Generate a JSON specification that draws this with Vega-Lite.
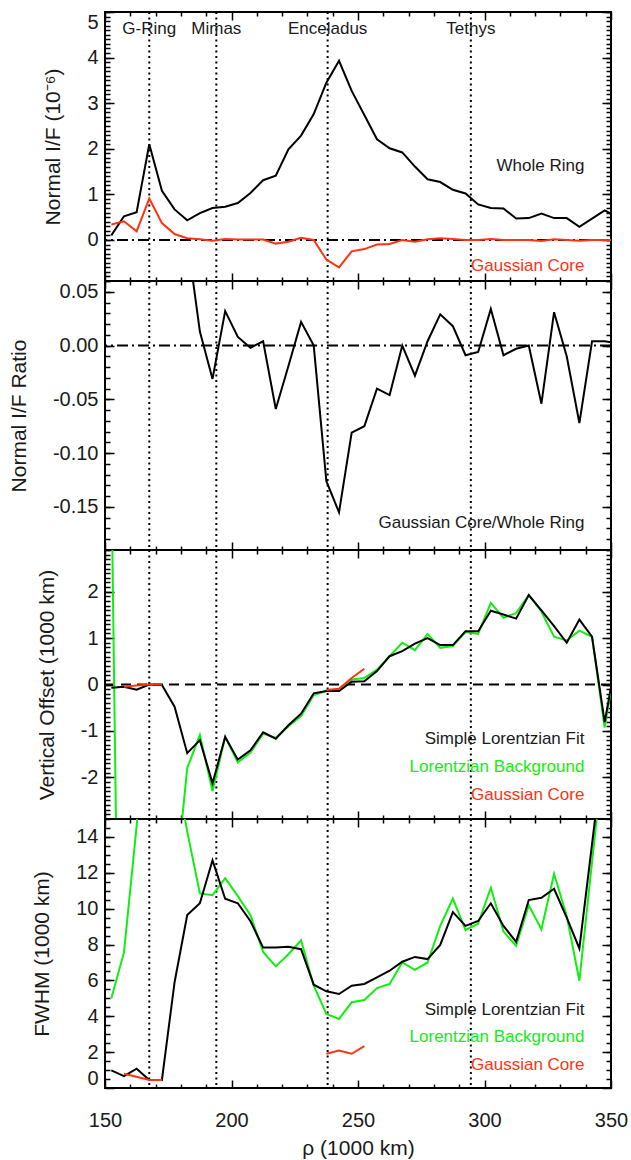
{
  "$schema": "https://vega.github.io/schema/vega-lite/v6.json",
  "padding": {"left": 7, "top": 10, "right": 0, "bottom": 0},
  "spacing": 0,
  "bounds": "flush",
  "datasets": {
    "d": [
      {"r":152.5,"wr":0.10,"gc":0.34,"ra":3.4,"vs":-0.07,"vl":4.6,"vg":null,"fs":0.98,"fl":5.0,"fg":null},
      {"r":157.5,"wr":0.52,"gc":0.41,"ra":0.79,"vs":-0.05,"vl":-16,"vg":-0.05,"fs":0.66,"fl":7.56,"fg":0.80},
      {"r":162.5,"wr":0.61,"gc":0.19,"ra":0.31,"vs":-0.11,"vl":-12,"vg":-0.02,"fs":1.08,"fl":14.6,"fg":0.63},
      {"r":167.5,"wr":2.10,"gc":0.91,"ra":0.43,"vs":0.0,"vl":-10,"vg":0.0,"fs":0.45,"fl":25,"fg":0.45},
      {"r":172.5,"wr":1.08,"gc":0.37,"ra":0.34,"vs":-0.01,"vl":-8,"vg":0.0,"fs":0.45,"fl":25,"fg":0.45},
      {"r":177.5,"wr":0.67,"gc":0.13,"ra":0.19,"vs":-0.48,"vl":-4.55,"vg":null,"fs":5.9,"fl":18.2,"fg":null},
      {"r":182.5,"wr":0.43,"gc":0.04,"ra":0.10,"vs":-1.48,"vl":-1.80,"vg":null,"fs":9.65,"fl":14.3,"fg":null},
      {"r":187.5,"wr":0.59,"gc":0.015,"ra":0.013,"vs":-1.20,"vl":-1.09,"vg":null,"fs":10.3,"fl":10.85,"fg":null},
      {"r":192.5,"wr":0.70,"gc":-0.015,"ra":-0.031,"vs":-2.13,"vl":-2.30,"vg":null,"fs":12.7,"fl":10.75,"fg":null},
      {"r":197.5,"wr":0.73,"gc":0.02,"ra":0.032,"vs":-1.13,"vl":-1.13,"vg":null,"fs":10.55,"fl":11.7,"fg":null},
      {"r":202.5,"wr":0.81,"gc":0.01,"ra":0.008,"vs":-1.62,"vl":-1.68,"vg":null,"fs":10.3,"fl":10.7,"fg":null},
      {"r":207.5,"wr":1.03,"gc":0.01,"ra":-0.002,"vs":-1.42,"vl":-1.47,"vg":null,"fs":9.3,"fl":9.63,"fg":null},
      {"r":212.5,"wr":1.31,"gc":0.01,"ra":0.004,"vs":-1.03,"vl":-1.06,"vg":null,"fs":7.83,"fl":7.59,"fg":null},
      {"r":217.5,"wr":1.41,"gc":-0.08,"ra":-0.059,"vs":-1.17,"vl":-1.15,"vg":null,"fs":7.83,"fl":6.78,"fg":null},
      {"r":222.5,"wr":1.99,"gc":-0.04,"ra":-0.019,"vs":-0.88,"vl":-0.90,"vg":null,"fs":7.87,"fl":7.46,"fg":null},
      {"r":227.5,"wr":2.29,"gc":0.05,"ra":0.022,"vs":-0.63,"vl":-0.68,"vg":null,"fs":7.74,"fl":8.24,"fg":null},
      {"r":232.5,"wr":2.76,"gc":0.0,"ra":0.0,"vs":-0.19,"vl":-0.23,"vg":null,"fs":5.76,"fl":5.70,"fg":null},
      {"r":237.5,"wr":3.45,"gc":-0.43,"ra":-0.126,"vs":-0.14,"vl":-0.14,"vg":-0.12,"fs":5.39,"fl":4.13,"fg":1.91},
      {"r":242.5,"wr":3.93,"gc":-0.60,"ra":-0.155,"vs":-0.14,"vl":-0.11,"vg":-0.09,"fs":5.24,"fl":3.85,"fg":2.09},
      {"r":247.5,"wr":3.27,"gc":-0.25,"ra":-0.081,"vs":0.06,"vl":0.11,"vg":0.14,"fs":5.70,"fl":4.78,"fg":1.91},
      {"r":252.5,"wr":2.74,"gc":-0.20,"ra":-0.075,"vs":0.07,"vl":0.14,"vg":0.34,"fs":5.80,"fl":4.91,"fg":2.33},
      {"r":257.5,"wr":2.21,"gc":-0.10,"ra":-0.040,"vs":0.29,"vl":0.32,"vg":null,"fs":6.17,"fl":5.57,"fg":null},
      {"r":262.5,"wr":2.01,"gc":-0.09,"ra":-0.046,"vs":0.61,"vl":0.61,"vg":null,"fs":6.54,"fl":5.80,"fg":null},
      {"r":267.5,"wr":1.92,"gc":0.0,"ra":0.0,"vs":0.72,"vl":0.90,"vg":null,"fs":7.04,"fl":7.0,"fg":null},
      {"r":272.5,"wr":1.61,"gc":-0.04,"ra":-0.028,"vs":0.88,"vl":0.74,"vg":null,"fs":7.31,"fl":6.59,"fg":null},
      {"r":277.5,"wr":1.33,"gc":0.015,"ra":0.004,"vs":1.0,"vl":1.09,"vg":null,"fs":7.19,"fl":7.0,"fg":null},
      {"r":282.5,"wr":1.27,"gc":0.035,"ra":0.029,"vs":0.85,"vl":0.79,"vg":null,"fs":7.98,"fl":9.04,"fg":null},
      {"r":287.5,"wr":1.10,"gc":0.02,"ra":0.018,"vs":0.85,"vl":0.83,"vg":null,"fs":9.81,"fl":10.56,"fg":null},
      {"r":292.5,"wr":1.02,"gc":0.0,"ra":-0.009,"vs":1.15,"vl":1.13,"vg":null,"fs":9.04,"fl":8.81,"fg":null},
      {"r":297.5,"wr":0.78,"gc":0.0,"ra":-0.006,"vs":1.15,"vl":1.09,"vg":null,"fs":9.31,"fl":9.17,"fg":null},
      {"r":302.5,"wr":0.70,"gc":0.02,"ra":0.034,"vs":1.59,"vl":1.76,"vg":null,"fs":10.3,"fl":11.17,"fg":null},
      {"r":307.5,"wr":0.69,"gc":0.0,"ra":-0.009,"vs":1.51,"vl":1.44,"vg":null,"fs":9.04,"fl":8.72,"fg":null},
      {"r":312.5,"wr":0.47,"gc":0.0,"ra":-0.003,"vs":1.42,"vl":1.54,"vg":null,"fs":8.15,"fl":7.93,"fg":null},
      {"r":317.5,"wr":0.48,"gc":0.0,"ra":0.0,"vs":1.93,"vl":1.93,"vg":null,"fs":10.48,"fl":10.19,"fg":null},
      {"r":322.5,"wr":0.58,"gc":-0.02,"ra":-0.054,"vs":1.60,"vl":1.57,"vg":null,"fs":10.61,"fl":8.85,"fg":null},
      {"r":327.5,"wr":0.48,"gc":0.015,"ra":0.031,"vs":1.26,"vl":1.03,"vg":null,"fs":11.11,"fl":11.94,"fg":null},
      {"r":332.5,"wr":0.48,"gc":0.0,"ra":-0.010,"vs":0.90,"vl":0.95,"vg":null,"fs":9.50,"fl":9.59,"fg":null},
      {"r":337.5,"wr":0.29,"gc":-0.015,"ra":-0.072,"vs":1.40,"vl":1.16,"vg":null,"fs":7.78,"fl":5.98,"fg":null},
      {"r":342.5,"wr":0.47,"gc":0.0,"ra":0.004,"vs":1.03,"vl":1.03,"vg":null,"fs":13.6,"fl":12.6,"fg":null},
      {"r":347.5,"wr":0.65,"gc":0.0,"ra":0.004,"vs":-0.81,"vl":-0.93,"vg":null,"fs":19.4,"fl":19.2,"fg":null},
      {"r":352.5,"wr":0.50,"gc":0.0,"ra":0.002,"vs":0.7,"vl":0.7,"vg":null,"fs":25,"fl":25,"fg":null}
    ],
    "moons": [
      {"m":"G-Ring","r":167.5},
      {"m":"Mimas","r":194},
      {"m":"Enceladus","r":238},
      {"m":"Tethys","r":294.6}
    ],
    "labels": [
      {"p":1,"s":"whole","t":"Whole Ring","x":339.5,"y":1.62},
      {"p":1,"s":"core","t":"Gaussian Core","x":339.5,"y":-0.58},
      {"p":2,"s":"ratio","t":"Gaussian Core/Whole Ring","x":339.5,"y":-0.165},
      {"p":3,"s":"slf","t":"Simple Lorentzian Fit","x":339.5,"y":-1.185},
      {"p":3,"s":"lbg","t":"Lorentzian Background","x":339.5,"y":-1.78},
      {"p":3,"s":"core","t":"Gaussian Core","x":339.5,"y":-2.39},
      {"p":4,"s":"slf","t":"Simple Lorentzian Fit","x":339.5,"y":4.33},
      {"p":4,"s":"lbg","t":"Lorentzian Background","x":339.5,"y":2.82},
      {"p":4,"s":"core","t":"Gaussian Core","x":339.5,"y":1.30}
    ]
  },
  "vconcat": [
    {
      "width": 506, "height": 269,
      "resolve": {"axis": {"x": "independent", "y": "independent"}},
      "layer": [
        {"data": {"name": "moons"}, "mark": {"type": "rule", "strokeDash": [2, 3.5], "strokeWidth": 2, "color": "black"},
         "encoding": {"x": {"field": "r", "type": "quantitative", "scale": {"domain": [150, 350], "nice": false}, "axis": null}}},
        {"data": {"name": "moons"}, "mark": {"type": "text", "fontSize": 17, "font": "Liberation Sans", "color": "#1a1a1a", "baseline": "middle", "align": "center"},
         "encoding": {"x": {"field": "r", "type": "quantitative", "axis": null}, "y": {"datum": 4.63, "type": "quantitative", "axis": null}, "text": {"field": "m"}}},
        {"data": {"values": [{}]}, "mark": {"type": "rule", "strokeDash": [11, 4, 2, 4], "strokeWidth": 2, "color": "black"},
         "encoding": {"y": {"datum": 0, "type": "quantitative", "axis": null}}},
        {"data": {"name": "d"}, "mark": {"type": "line", "color": "black", "strokeWidth": 2, "clip": true},
         "encoding": {
           "x": {"field": "r", "type": "quantitative", "scale": {"domain": [150, 350], "nice": false},
                 "axis": {"orient": "bottom", "values": [150, 200, 250, 300, 350], "tickSize": -8, "labels": false, "title": null}},
           "y": {"field": "wr", "type": "quantitative", "scale": {"domain": [-0.9, 5], "nice": false, "zero": false},
                 "axis": {"orient": "left", "values": [0, 1, 2, 3, 4, 5], "tickSize": -9, "labelPadding": 16, "labelFlush": 2, "labelOverlap": false, "title": "Normal I/F (10⁻⁶)", "titlePadding": 23}}}},
        {"data": {"name": "d"}, "mark": {"type": "line", "color": "#ff3311", "strokeWidth": 2, "clip": true},
         "encoding": {
           "x": {"field": "r", "type": "quantitative", "axis": {"orient": "top", "values": [150, 200, 250, 300, 350], "tickSize": -8, "labels": false, "title": null}},
           "y": {"field": "gc", "type": "quantitative", "axis": {"orient": "right", "values": [0, 1, 2, 3, 4, 5], "tickSize": -9, "labels": false, "title": null}}}},
        {"data": {"name": "d"}, "mark": {"type": "point", "opacity": 0, "clip": true},
         "encoding": {
           "x": {"field": "r", "type": "quantitative", "axis": {"orient": "bottom", "values": [160,170,180,190,210,220,230,240,260,270,280,290,310,320,330,340], "tickSize": -4, "labels": false, "title": null}},
           "y": {"field": "wr", "type": "quantitative", "axis": {"orient": "left", "values": [-0.9,-0.8,-0.7,-0.6,-0.5,-0.4,-0.3,-0.2,-0.1,0,0.1,0.2,0.3,0.4,0.5,0.6,0.7,0.8,0.9,1,1.1,1.2,1.3,1.4,1.5,1.6,1.7,1.8,1.9,2,2.1,2.2,2.3,2.4,2.5,2.6,2.7,2.8,2.9,3,3.1,3.2,3.3,3.4,3.5,3.6,3.7,3.8,3.9,4,4.1,4.2,4.3,4.4,4.5,4.6,4.7,4.8,4.9,5], "tickSize": -5, "labels": false, "title": null}}}},
        {"data": {"name": "d"}, "mark": {"type": "point", "opacity": 0, "clip": true},
         "encoding": {
           "x": {"field": "r", "type": "quantitative", "axis": {"orient": "top", "values": [160,170,180,190,210,220,230,240,260,270,280,290,310,320,330,340], "tickSize": -4, "labels": false, "title": null}},
           "y": {"field": "wr", "type": "quantitative", "axis": {"orient": "right", "values": [-0.9,-0.8,-0.7,-0.6,-0.5,-0.4,-0.3,-0.2,-0.1,0,0.1,0.2,0.3,0.4,0.5,0.6,0.7,0.8,0.9,1,1.1,1.2,1.3,1.4,1.5,1.6,1.7,1.8,1.9,2,2.1,2.2,2.3,2.4,2.5,2.6,2.7,2.8,2.9,3,3.1,3.2,3.3,3.4,3.5,3.6,3.7,3.8,3.9,4,4.1,4.2,4.3,4.4,4.5,4.6,4.7,4.8,4.9,5], "tickSize": -5, "labels": false, "title": null}}}},
        {"data": {"name": "labels"}, "transform": [{"filter": "datum.p == 1"}],
         "mark": {"type": "text", "fontSize": 17, "font": "Liberation Sans", "baseline": "middle", "align": "right"},
         "encoding": {"x": {"field": "x", "type": "quantitative", "axis": null}, "y": {"field": "y", "type": "quantitative", "axis": null}, "text": {"field": "t"},
           "color": {"field": "s", "type": "nominal", "legend": null, "scale": {"domain": ["whole", "core", "ratio", "slf", "lbg"], "range": ["#1a1a1a", "#ff3311", "#1a1a1a", "#1a1a1a", "#11ee11"]}}}}
      ]
    },
    {
      "width": 506, "height": 269,
      "resolve": {"axis": {"x": "independent", "y": "independent"}},
      "layer": [
        {"data": {"name": "moons"}, "mark": {"type": "rule", "strokeDash": [2, 3.5], "strokeWidth": 2, "color": "black"},
         "encoding": {"x": {"field": "r", "type": "quantitative", "scale": {"domain": [150, 350], "nice": false}, "axis": null}}},
        {"data": {"values": [{}]}, "mark": {"type": "rule", "strokeDash": [11, 4, 2, 4], "strokeWidth": 2, "color": "black"},
         "encoding": {"y": {"datum": 0, "type": "quantitative", "axis": null}}},
        {"data": {"name": "d"}, "mark": {"type": "line", "color": "black", "strokeWidth": 2, "clip": true},
         "encoding": {
           "x": {"field": "r", "type": "quantitative", "scale": {"domain": [150, 350], "nice": false},
                 "axis": {"orient": "bottom", "values": [150, 200, 250, 300, 350], "tickSize": -8, "labels": false, "title": null}},
           "y": {"field": "ra", "type": "quantitative", "scale": {"domain": [-0.19, 0.06], "nice": false, "zero": false},
                 "axis": {"orient": "left", "values": [-0.15, -0.1, -0.05, 0, 0.05], "format": ".2f", "tickSize": -9, "labelPadding": 16, "labelFlush": 2, "labelOverlap": false, "title": "Normal I/F Ratio", "titlePadding": 23}}}},
        {"data": {"name": "d"}, "mark": {"type": "point", "opacity": 0, "clip": true},
         "encoding": {
           "x": {"field": "r", "type": "quantitative", "axis": {"orient": "top", "values": [150, 200, 250, 300, 350], "tickSize": -8, "labels": false, "title": null}},
           "y": {"field": "ra", "type": "quantitative", "axis": {"orient": "right", "values": [-0.15, -0.1, -0.05, 0, 0.05], "tickSize": -9, "labels": false, "title": null}}}},
        {"data": {"name": "d"}, "mark": {"type": "point", "opacity": 0, "clip": true},
         "encoding": {
           "x": {"field": "r", "type": "quantitative", "axis": {"orient": "bottom", "values": [160,170,180,190,210,220,230,240,260,270,280,290,310,320,330,340], "tickSize": -4, "labels": false, "title": null}},
           "y": {"field": "ra", "type": "quantitative", "axis": {"orient": "left", "values": [-0.19,-0.18,-0.17,-0.16,-0.15,-0.14,-0.13,-0.12,-0.11,-0.1,-0.09,-0.08,-0.07,-0.06,-0.05,-0.04,-0.03,-0.02,-0.01,0,0.01,0.02,0.03,0.04,0.05,0.06], "tickSize": -5, "labels": false, "title": null}}}},
        {"data": {"name": "d"}, "mark": {"type": "point", "opacity": 0, "clip": true},
         "encoding": {
           "x": {"field": "r", "type": "quantitative", "axis": {"orient": "top", "values": [160,170,180,190,210,220,230,240,260,270,280,290,310,320,330,340], "tickSize": -4, "labels": false, "title": null}},
           "y": {"field": "ra", "type": "quantitative", "axis": {"orient": "right", "values": [-0.19,-0.18,-0.17,-0.16,-0.15,-0.14,-0.13,-0.12,-0.11,-0.1,-0.09,-0.08,-0.07,-0.06,-0.05,-0.04,-0.03,-0.02,-0.01,0,0.01,0.02,0.03,0.04,0.05,0.06], "tickSize": -5, "labels": false, "title": null}}}},
        {"data": {"name": "labels"}, "transform": [{"filter": "datum.p == 2"}],
         "mark": {"type": "text", "fontSize": 17, "font": "Liberation Sans", "baseline": "middle", "align": "right"},
         "encoding": {"x": {"field": "x", "type": "quantitative", "axis": null}, "y": {"field": "y", "type": "quantitative", "axis": null}, "text": {"field": "t"},
           "color": {"field": "s", "type": "nominal", "legend": null, "scale": {"domain": ["whole", "core", "ratio", "slf", "lbg"], "range": ["#1a1a1a", "#ff3311", "#1a1a1a", "#1a1a1a", "#11ee11"]}}}}
      ]
    },
    {
      "width": 506, "height": 269,
      "resolve": {"axis": {"x": "independent", "y": "independent"}},
      "layer": [
        {"data": {"name": "moons"}, "mark": {"type": "rule", "strokeDash": [2, 3.5], "strokeWidth": 2, "color": "black"},
         "encoding": {"x": {"field": "r", "type": "quantitative", "scale": {"domain": [150, 350], "nice": false}, "axis": null}}},
        {"data": {"values": [{}]}, "mark": {"type": "rule", "strokeDash": [10, 6], "strokeWidth": 2, "color": "black"},
         "encoding": {"y": {"datum": 0, "type": "quantitative", "axis": null}}},
        {"data": {"name": "d"}, "mark": {"type": "line", "color": "#11ee11", "strokeWidth": 2, "clip": true},
         "encoding": {
           "x": {"field": "r", "type": "quantitative", "scale": {"domain": [150, 350], "nice": false},
                 "axis": {"orient": "bottom", "values": [160,170,180,190,210,220,230,240,260,270,280,290,310,320,330,340], "tickSize": -4, "labels": false, "title": null}},
           "y": {"field": "vl", "type": "quantitative", "scale": {"domain": [-2.9, 2.9], "nice": false, "zero": false},
                 "axis": {"orient": "left", "values": [-2.9,-2.8,-2.7,-2.6,-2.5,-2.4,-2.3,-2.2,-2.1,-2,-1.9,-1.8,-1.7,-1.6,-1.5,-1.4,-1.3,-1.2,-1.1,-1,-0.9,-0.8,-0.7,-0.6,-0.5,-0.4,-0.3,-0.2,-0.1,0,0.1,0.2,0.3,0.4,0.5,0.6,0.7,0.8,0.9,1,1.1,1.2,1.3,1.4,1.5,1.6,1.7,1.8,1.9,2,2.1,2.2,2.3,2.4,2.5,2.6,2.7,2.8,2.9], "tickSize": -5, "labels": false, "title": null}}}},
        {"data": {"name": "d"}, "mark": {"type": "line", "color": "black", "strokeWidth": 2, "clip": true},
         "encoding": {
           "x": {"field": "r", "type": "quantitative",
                 "axis": {"orient": "bottom", "values": [150, 200, 250, 300, 350], "tickSize": -8, "labels": false, "title": null}},
           "y": {"field": "vs", "type": "quantitative", "scale": {"domain": [-2.9, 2.9], "nice": false, "zero": false},
                 "axis": {"orient": "left", "values": [-2, -1, 0, 1, 2], "tickSize": -9, "labelPadding": 16, "labelFlush": 2, "labelOverlap": false, "title": "Vertical Offset (1000 km)", "titlePadding": 23}}}},
        {"data": {"name": "d"}, "transform": [{"filter": "datum.r < 200"}], "mark": {"type": "line", "color": "#ff3311", "strokeWidth": 2, "clip": true},
         "encoding": {
           "x": {"field": "r", "type": "quantitative", "axis": {"orient": "top", "values": [150, 200, 250, 300, 350], "tickSize": -8, "labels": false, "title": null}},
           "y": {"field": "vg", "type": "quantitative", "axis": {"orient": "right", "values": [-2, -1, 0, 1, 2], "tickSize": -9, "labels": false, "title": null}}}},
        {"data": {"name": "d"}, "transform": [{"filter": "datum.r > 200"}], "mark": {"type": "line", "color": "#ff3311", "strokeWidth": 2, "clip": true},
         "encoding": {
           "x": {"field": "r", "type": "quantitative", "axis": {"orient": "top", "values": [160,170,180,190,210,220,230,240,260,270,280,290,310,320,330,340], "tickSize": -4, "labels": false, "title": null}},
           "y": {"field": "vg", "type": "quantitative", "axis": {"orient": "right", "values": [-2.9,-2.8,-2.7,-2.6,-2.5,-2.4,-2.3,-2.2,-2.1,-2,-1.9,-1.8,-1.7,-1.6,-1.5,-1.4,-1.3,-1.2,-1.1,-1,-0.9,-0.8,-0.7,-0.6,-0.5,-0.4,-0.3,-0.2,-0.1,0,0.1,0.2,0.3,0.4,0.5,0.6,0.7,0.8,0.9,1,1.1,1.2,1.3,1.4,1.5,1.6,1.7,1.8,1.9,2,2.1,2.2,2.3,2.4,2.5,2.6,2.7,2.8,2.9], "tickSize": -5, "labels": false, "title": null}}}},
        {"data": {"name": "labels"}, "transform": [{"filter": "datum.p == 3"}],
         "mark": {"type": "text", "fontSize": 17, "font": "Liberation Sans", "baseline": "middle", "align": "right"},
         "encoding": {"x": {"field": "x", "type": "quantitative", "axis": null}, "y": {"field": "y", "type": "quantitative", "axis": null}, "text": {"field": "t"},
           "color": {"field": "s", "type": "nominal", "legend": null, "scale": {"domain": ["whole", "core", "ratio", "slf", "lbg"], "range": ["#1a1a1a", "#ff3311", "#1a1a1a", "#1a1a1a", "#11ee11"]}}}}
      ]
    },
    {
      "width": 506, "height": 269,
      "resolve": {"axis": {"x": "independent", "y": "independent"}},
      "layer": [
        {"data": {"name": "moons"}, "mark": {"type": "rule", "strokeDash": [2, 3.5], "strokeWidth": 2, "color": "black"},
         "encoding": {"x": {"field": "r", "type": "quantitative", "scale": {"domain": [150, 350], "nice": false}, "axis": null}}},
        {"data": {"name": "d"}, "mark": {"type": "line", "color": "#11ee11", "strokeWidth": 2, "clip": true},
         "encoding": {
           "x": {"field": "r", "type": "quantitative", "scale": {"domain": [150, 350], "nice": false},
                 "axis": {"orient": "bottom", "values": [160,170,180,190,210,220,230,240,260,270,280,290,310,320,330,340], "tickSize": -4, "labels": false, "title": null}},
           "y": {"field": "fl", "type": "quantitative", "scale": {"domain": [0, 15], "nice": false, "zero": false},
                 "axis": {"orient": "left", "values": [0.5,1,1.5,2,2.5,3,3.5,4,4.5,5,5.5,6,6.5,7,7.5,8,8.5,9,9.5,10,10.5,11,11.5,12,12.5,13,13.5,14,14.5], "tickSize": -5, "labels": false, "title": null}}}},
        {"data": {"name": "d"}, "mark": {"type": "line", "color": "black", "strokeWidth": 2, "clip": true},
         "encoding": {
           "x": {"field": "r", "type": "quantitative",
                 "axis": {"orient": "bottom", "values": [150, 200, 250, 300, 350], "tickSize": -8, "labelPadding": 30, "labelFlush": false, "labelOverlap": false, "labelFontSize": 20, "title": "ρ (1000 km)", "titlePadding": 7}},
           "y": {"field": "fs", "type": "quantitative", "scale": {"domain": [0, 15], "nice": false, "zero": false},
                 "axis": {"orient": "left", "values": [0, 2, 4, 6, 8, 10, 12, 14], "tickSize": -9, "labelPadding": 16, "labelFlush": 2, "labelOverlap": false, "title": "FWHM (1000 km)", "titlePadding": 23}}}},
        {"data": {"name": "d"}, "transform": [{"filter": "datum.r < 200"}], "mark": {"type": "line", "color": "#ff3311", "strokeWidth": 2, "clip": true},
         "encoding": {
           "x": {"field": "r", "type": "quantitative", "axis": {"orient": "top", "values": [150, 200, 250, 300, 350], "tickSize": -8, "labels": false, "title": null}},
           "y": {"field": "fg", "type": "quantitative", "axis": {"orient": "right", "values": [0, 2, 4, 6, 8, 10, 12, 14], "tickSize": -9, "labels": false, "title": null}}}},
        {"data": {"name": "d"}, "transform": [{"filter": "datum.r > 200"}], "mark": {"type": "line", "color": "#ff3311", "strokeWidth": 2, "clip": true},
         "encoding": {
           "x": {"field": "r", "type": "quantitative", "axis": {"orient": "top", "values": [160,170,180,190,210,220,230,240,260,270,280,290,310,320,330,340], "tickSize": -4, "labels": false, "title": null}},
           "y": {"field": "fg", "type": "quantitative", "axis": {"orient": "right", "values": [0.5,1,1.5,2,2.5,3,3.5,4,4.5,5,5.5,6,6.5,7,7.5,8,8.5,9,9.5,10,10.5,11,11.5,12,12.5,13,13.5,14,14.5], "tickSize": -5, "labels": false, "title": null}}}},
        {"data": {"name": "labels"}, "transform": [{"filter": "datum.p == 4"}],
         "mark": {"type": "text", "fontSize": 17, "font": "Liberation Sans", "baseline": "middle", "align": "right"},
         "encoding": {"x": {"field": "x", "type": "quantitative", "axis": null}, "y": {"field": "y", "type": "quantitative", "axis": null}, "text": {"field": "t"},
           "color": {"field": "s", "type": "nominal", "legend": null, "scale": {"domain": ["whole", "core", "ratio", "slf", "lbg"], "range": ["#1a1a1a", "#ff3311", "#1a1a1a", "#1a1a1a", "#11ee11"]}}}}
      ]
    }
  ],
  "config": {
    "locale": {"number": {"decimal": ".", "thousands": ",", "grouping": [3], "currency": ["$", ""], "minus": "-"}},
    "view": {"stroke": "black", "strokeWidth": 2},
    "axis": {"domain": false, "grid": false, "tickColor": "black", "tickWidth": 1.5,
             "labelFont": "Liberation Sans", "labelFontSize": 20, "labelColor": "#1a1a1a",
             "titleFont": "Liberation Sans", "titleFontSize": 21, "titleFontWeight": "normal", "titleColor": "#1a1a1a"}
  }
}
